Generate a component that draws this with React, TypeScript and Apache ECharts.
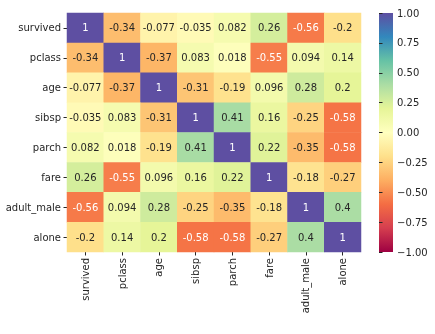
import React, { useEffect, useRef } from "react";
import * as echarts from "echarts";

const labels = ["survived", "pclass", "age", "sibsp", "parch", "fare", "adult_male", "alone"];
const matrix: number[][] = [
  [1, -0.34, -0.077, -0.035, 0.082, 0.26, -0.56, -0.2],
  [-0.34, 1, -0.37, 0.083, 0.018, -0.55, 0.094, 0.14],
  [-0.077, -0.37, 1, -0.31, -0.19, 0.096, 0.28, 0.2],
  [-0.035, 0.083, -0.31, 1, 0.41, 0.16, -0.25, -0.58],
  [0.082, 0.018, -0.19, 0.41, 1, 0.22, -0.35, -0.58],
  [0.26, -0.55, 0.096, 0.16, 0.22, 1, -0.18, -0.27],
  [-0.56, 0.094, 0.28, -0.25, -0.35, -0.18, 1, 0.4],
  [-0.2, 0.14, 0.2, -0.58, -0.58, -0.27, 0.4, 1],
];
const spectral = ["#9e0142", "#d53e4f", "#f46d43", "#fdae61", "#fee08b", "#ffffbf", "#e6f598", "#abdda4", "#66c2a5", "#3288bd", "#5e4fa2"];

const FONT = "DejaVu Sans";
const TXT = "#262626";

export default function App() {
  const ref = useRef<HTMLDivElement>(null);
  useEffect(() => {
    const chart = echarts.init(ref.current!, null, { renderer: "svg" });
    const data: any[] = [];
    matrix.forEach((row, yi) =>
      row.forEach((v, xi) => {
        const white = v > 0.9 || v < -0.5;
        data.push({ value: [xi, yi, v], label: { color: white ? "#ffffff" : TXT } });
      })
    );
    const fmt = (v: number) => (v < 0 ? "\u2212" : "") + Math.abs(v).toFixed(2);
    const stops = spectral.map((c, i) => ({ offset: i / (spectral.length - 1), color: c }));
    chart.setOption({
      animation: false,
      grid: [
        { left: 67, top: 13, width: 294, height: 239 },
        { left: 379, top: 13, width: 14, height: 239 },
      ],
      xAxis: [
        {
          type: "category",
          data: labels,
          gridIndex: 0,
          axisLine: { show: false },
          axisTick: { show: true, alignWithLabel: true, length: 3.5, lineStyle: { color: TXT } },
          axisLabel: { rotate: 90, fontFamily: FONT, fontSize: 10, color: TXT, margin: 6 },
          splitLine: { show: false },
        },
        { type: "value", gridIndex: 1, show: false, min: 0, max: 1 },
      ],
      yAxis: [
        {
          type: "category",
          data: labels,
          inverse: true,
          gridIndex: 0,
          axisLine: { show: false },
          axisTick: { show: true, alignWithLabel: true, length: 3.5, lineStyle: { color: TXT } },
          axisLabel: { fontFamily: FONT, fontSize: 10, color: TXT, margin: 6 },
          splitLine: { show: false },
        },
        {
          type: "value",
          gridIndex: 1,
          position: "right",
          min: -1,
          max: 1,
          interval: 0.25,
          axisLine: { show: false },
          axisTick: { show: true, length: 3.5, lineStyle: { color: TXT } },
          axisLabel: { fontFamily: FONT, fontSize: 10, color: TXT, margin: 4, formatter: fmt },
          splitLine: { show: false },
        },
      ],
      visualMap: {
        type: "continuous",
        show: false,
        min: -1,
        max: 1,
        seriesIndex: 0,
        inRange: { color: spectral },
      },
      graphic: [
        {
          type: "rect",
          left: 379,
          top: 13,
          shape: { width: 14, height: 239 },
          style: { fill: new echarts.graphic.LinearGradient(0, 1, 0, 0, stops) },
          silent: true,
        },
      ],
      series: [
        {
          type: "heatmap",
          xAxisIndex: 0,
          yAxisIndex: 0,
          data,
          label: {
            show: true,
            fontFamily: FONT,
            fontSize: 10,
            formatter: (p: any) => String(p.value[2]),
          },
        },
        { type: "line", xAxisIndex: 1, yAxisIndex: 1, data: [], silent: true },
      ],
    });
    return () => chart.dispose();
  }, []);
  return <div ref={ref} style={{ position: "fixed", left: 0, top: 0, width: 435, height: 334 }} />;
}
